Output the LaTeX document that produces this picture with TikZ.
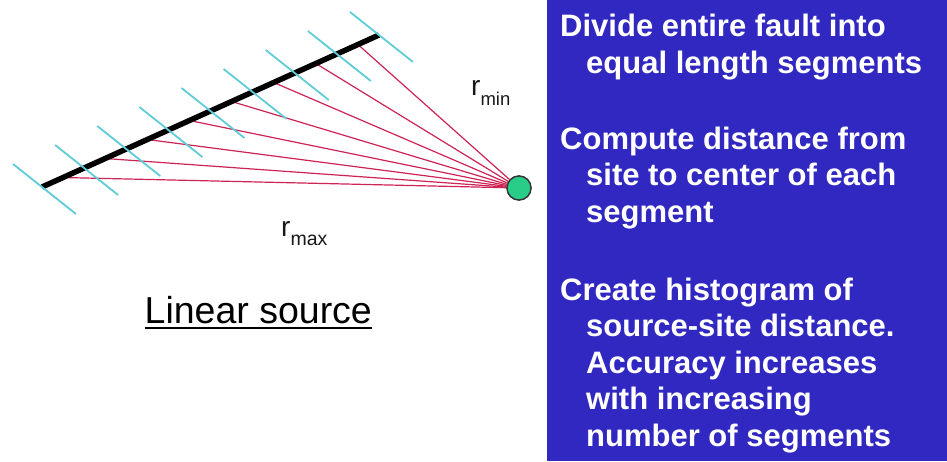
\documentclass[tikz,border=0pt]{standalone}
\usepackage{fontspec}
\setmainfont{Liberation Sans}
\usetikzlibrary{calc,positioning}

\definecolor{panelblue}{RGB}{48,40,192}
\definecolor{raycrimson}{RGB}{205,35,85}
\definecolor{tickcyan}{RGB}{95,205,215}
\definecolor{sitegreen}{RGB}{40,205,135}

\begin{document}
\begin{tikzpicture}[
  x=1pt, y=-1pt,
  faultline/.style={line width=5.5pt, draw=black},
  tickline/.style={line width=1.8pt, draw=tickcyan},
  rayline/.style={line width=1.2pt, draw=raycrimson},
  site/.style={circle, draw=black!80, line width=1.3pt, fill=sitegreen,
               minimum size=24pt, inner sep=0pt},
  note/.style={anchor=base west, align=left, inner sep=0pt, text=white,
               font=\bfseries\fontsize{31}{36.5}\selectfont},
  dist/.style={anchor=base west, inner sep=0pt, text=black!90,
               font=\fontsize{28}{30}\selectfont}
]
  \useasboundingbox (0,0) rectangle (947,461);
  \fill[white] (0,0) rectangle (947,461);

  \coordinate (fa) at (42,187);
  \coordinate (fb) at (379,35);
  \node[site] (site) at (519,188) {};

  \foreach \i in {0,...,7}
    \draw[rayline] ($(fa)!{(\i+0.5)/8}!(fb)$) -- (site);
  \draw[faultline] (fa) -- (fb);
  \foreach \i in {0,...,8} {
    \coordinate (t\i) at ($(fa)!{\i/8}!(fb)$);
    \draw[tickline] ($(t\i)+(-29,-23)$) -- ($(t\i)+(34,27)$);
  }
  \node[site] at (site) {};

  \node[dist] (rmin) at (471,95)
    {r\raisebox{-10pt}{\fontsize{18.5}{20}\selectfont min}};
  \node[dist] (rmax) at (281,236)
    {r\raisebox{-9pt}{\fontsize{19.5}{20}\selectfont max}};

  \node[anchor=base west, inner sep=0pt, font=\fontsize{37.5}{40}\selectfont]
    (linear) at (144.5,323) {Linear source};
  \draw[line width=2.3pt] ([yshift=-5pt]linear.base west)
    -- ([yshift=-5pt]linear.base east);

  \fill[panelblue] (547,0) rectangle (947,461);
  \node[note] (divide) at (560,73)
    {Divide entire fault into\\\hspace*{26pt}equal length segments};
  \node[note] (compute) at (560,222)
    {Compute distance from\\\hspace*{26pt}site to center of each\\
     \hspace*{26pt}segment};
  \node[note] (create) at (560,446)
    {Create histogram of\\\hspace*{26pt}source-site distance.\\
     \hspace*{26pt}Accuracy increases\\\hspace*{26pt}with increasing\\
     \hspace*{26pt}number of segments};
\end{tikzpicture}
\end{document}
